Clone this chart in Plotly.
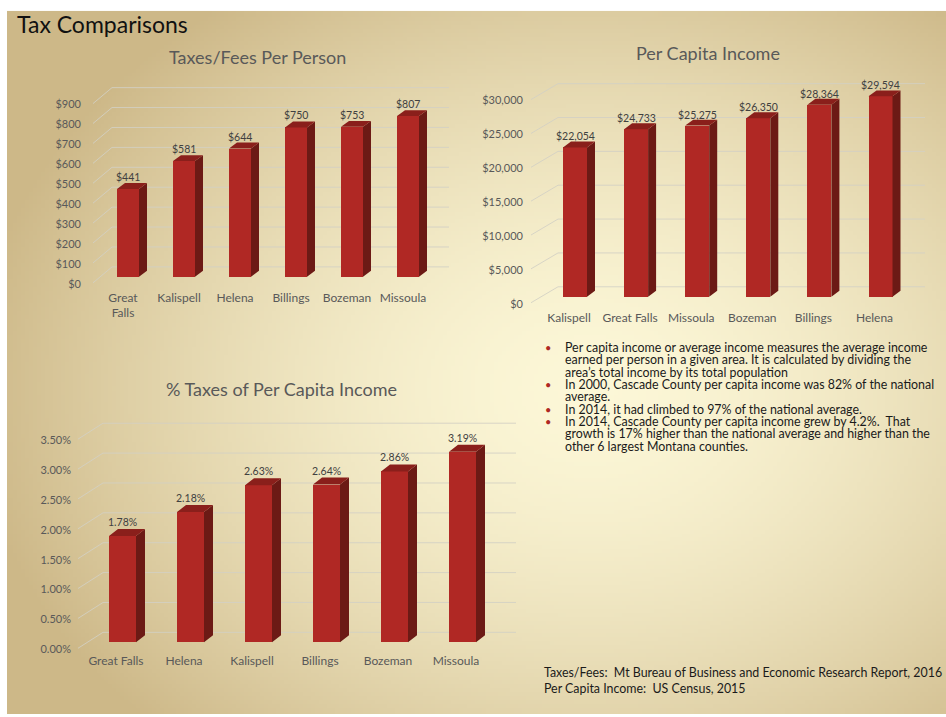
import base64
import struct
import zlib

import numpy as np
import plotly.graph_objects as go

# ---------------- data ----------------
tax_cities = ["Great Falls", "Kalispell", "Helena", "Billings", "Bozeman", "Missoula"]
tax_values = [441, 581, 644, 750, 753, 807]
tax_ticks = [0, 100, 200, 300, 400, 500, 600, 700, 800, 900]

income_cities = ["Kalispell", "Great Falls", "Missoula", "Bozeman", "Billings", "Helena"]
income_values = [22054, 24733, 25275, 26350, 28364, 29594]
income_ticks = [0, 5000, 10000, 15000, 20000, 25000, 30000]

pct_cities = ["Great Falls", "Helena", "Kalispell", "Billings", "Bozeman", "Missoula"]
pct_values = [1.78, 2.18, 2.63, 2.64, 2.86, 3.19]
pct_ticks = [0, 0.5, 1.0, 1.5, 2.0, 2.5, 3.0, 3.5]

bullet_lines = [
    ("•", "Per capita income or average income measures the average income"),
    ("", "earned per person in a given area. It is calculated by dividing the"),
    ("", "area\u2019s total income by its total population"),
    ("•", "In 2000, Cascade County per capita income was 82% of the national"),
    ("", "average."),
    ("•", "In 2014, it had climbed to 97% of the national average."),
    ("•", "In 2014, Cascade County per capita income grew by 4.2%.\u00a0 That"),
    ("", "growth is 17% higher than the national average and higher than the"),
    ("", "other 6 largest Montana counties."),
]
source_lines = [
    "Taxes/Fees:\u00a0 Mt Bureau of Business and Economic Research Report, 2016",
    "Per Capita Income:\u00a0 US Census, 2015",
]

# ---------------- style ----------------
W, H = 946, 717
FONT = "Lato"
FRONT = "rgb(176,40,36)"
SIDE = "rgb(108,26,21)"
TOP = "rgb(138,31,27)"
GRID = "rgba(210,208,196,0.85)"
AXIS_TXT = "#595959"


def png_uri(rgb):
    h, w, _ = rgb.shape
    raw = b"".join(b"\x00" + rgb[j].tobytes() for j in range(h))

    def chunk(t, d):
        return struct.pack(">I", len(d)) + t + d + struct.pack(">I", zlib.crc32(t + d) & 0xFFFFFFFF)

    png = (b"\x89PNG\r\n\x1a\n" + chunk(b"IHDR", struct.pack(">IIBBBBB", w, h, 8, 2, 0, 0, 0))
           + chunk(b"IDAT", zlib.compress(raw, 9)) + chunk(b"IEND", b""))
    return "data:image/png;base64," + base64.b64encode(png).decode()


# slide background gradient
SL, ST, SR, SB = 7, 11, 946, 717
gw, gh = 236, 177
xs = SL + (np.arange(gw) + 0.5) / gw * (SR - SL)
ys = ST + (np.arange(gh) + 0.5) / gh * (SB - ST)
XX, YY = np.meshgrid(xs, ys)
t = np.sqrt(((XX - 590) / 620) ** 2 + ((YY - 390) / 480) ** 2)
t = np.clip(t, 0, 1) ** 1.6
c0 = np.array([252, 247, 215], float)
c1 = np.array([205, 184, 136], float)
img = (c0[None, None, :] + (c1 - c0)[None, None, :] * t[..., None]).round().astype(np.uint8)
bg_uri = png_uri(img)

fig = go.Figure()
annotations = []
shapes = []

specs = [
    dict(cats=tax_cities, vals=tax_values, ticks=tax_ticks,
         ticktext=["$" + format(v, ",") for v in tax_ticks],
         valtext=["$" + format(v, ",") for v in tax_values],
         cattext=[c.replace(" ", "<br>") if c == "Great Falls" else c for c in tax_cities],
         x0=123, step=56, y0=278, ppu=0.2, dom=(86, 452, 78, 290),
         off=5, bw=22, side=8, top=6, bx0=112, bx1=449, dx0=93, vgap=6,
         title="Taxes/Fees Per Person", tx=257, ty=57),
    dict(cats=income_cities, vals=income_values, ticks=income_ticks,
         ticktext=["$" + format(v, ",") for v in income_ticks],
         valtext=["$" + format(v, ",") for v in income_values],
         cattext=income_cities,
         x0=569, step=61.1, y0=298, ppu=204 / 30000, dom=(528, 928, 75, 310),
         off=6, bw=24, side=8, top=6, bx0=558, bx1=925, dx0=531, vgap=5,
         title="Per Capita Income", tx=708, ty=53),
    dict(cats=pct_cities, vals=pct_values, ticks=pct_ticks,
         ticktext=["%.2f%%" % v for v in pct_ticks],
         valtext=["%.2f%%" % v for v in pct_values],
         cattext=pct_cities,
         x0=116, step=68, y0=645, ppu=60, dom=(76, 518, 415, 655),
         off=6.5, bw=27, side=9, top=7, bx0=103, bx1=516, dx0=78, vgap=7,
         title="% Taxes of Per Capita Income", tx=281, ty=391),
]

layout_axes = {}
for n, s in enumerate(specs, start=1):
    xa, ya = ("x" if n == 1 else f"x{n}"), ("y" if n == 1 else f"y{n}")
    l, r, tp, b = s["dom"]
    x0, step, y0, ppu = s["x0"], s["step"], s["y0"], s["ppu"]

    def X(px):
        return (px - x0) / step

    def Y(py):
        return (y0 - py) / ppu

    layout_axes["xaxis" if n == 1 else f"xaxis{n}"] = dict(
        domain=[l / W, r / W], range=[X(l), X(r)], anchor=ya,
        tickvals=list(range(len(s["cats"]))), ticktext=s["cattext"],
        showgrid=False, zeroline=False, showline=False, ticks="",
        tickfont=dict(family=FONT, size=12, color=AXIS_TXT), fixedrange=True)
    layout_axes["yaxis" if n == 1 else f"yaxis{n}"] = dict(
        domain=[1 - b / H, 1 - tp / H], range=[Y(b), Y(tp)], anchor=xa,
        tickvals=s["ticks"], ticktext=s["ticktext"], ticklabelshift=7, ticklabelstandoff=4,
        showgrid=False, zeroline=False, showline=False, ticks="",
        tickfont=dict(family=FONT, size=11, color=AXIS_TXT), fixedrange=True)

    # perspective gridlines (back wall + side wall)
    for v in s["ticks"]:
        fpy = y0 - v * ppu
        bpy = fpy - 10
        shapes.append(dict(type="line", xref=xa, yref=ya, layer="below",
                           x0=X(s["dx0"]), y0=Y(fpy + 6), x1=X(s["bx0"]), y1=Y(bpy),
                           line=dict(color=GRID, width=1)))
        shapes.append(dict(type="line", xref=xa, yref=ya, layer="below",
                           x0=X(s["bx0"]), y0=Y(bpy), x1=X(s["bx1"]), y1=Y(bpy),
                           line=dict(color=GRID, width=1)))

    n_c = len(s["cats"])
    cx = [i + s["off"] / step for i in range(n_c)]
    bw = s["bw"] / step
    sx = s["side"] / step
    ty_ = s["top"] / ppu

    fig.add_trace(go.Bar(x=cx, y=s["vals"], width=bw, marker=dict(color=FRONT, line=dict(width=0)),
                         xaxis=xa, yaxis=ya, hoverinfo="skip", showlegend=False))
    side_x, side_y, top_x, top_y = [], [], [], []
    for c, v in zip(cx, s["vals"]):
        xl, xr = c - bw / 2, c + bw / 2
        side_x += [xr, xr + sx, xr + sx, xr, xr, None]
        side_y += [0, ty_, v + ty_, v, 0, None]
        top_x += [xl, xl + sx, xr + sx, xr, xl, None]
        top_y += [v, v + ty_, v + ty_, v, v, None]
    fig.add_trace(go.Scatter(x=side_x, y=side_y, mode="lines", fill="toself", fillcolor=SIDE,
                             line=dict(width=0, color=SIDE), xaxis=xa, yaxis=ya,
                             hoverinfo="skip", showlegend=False))
    fig.add_trace(go.Scatter(x=top_x, y=top_y, mode="lines", fill="toself", fillcolor=TOP,
                             line=dict(width=0, color=TOP), xaxis=xa, yaxis=ya,
                             hoverinfo="skip", showlegend=False))
    for c, v, txt in zip(cx, s["vals"], s["valtext"]):
        annotations.append(dict(xref=xa, yref=ya, x=c, y=v + ty_, text=txt, showarrow=False,
                                xanchor="center", yanchor="middle", yshift=s["vgap"],
                                font=dict(family=FONT, size=10.5, color="#404040")))
    annotations.append(dict(xref="paper", yref="paper", x=s["tx"] / W, y=1 - s["ty"] / H,
                            text=s["title"], showarrow=False, xanchor="center", yanchor="middle",
                            font=dict(family=FONT, size=18, color=AXIS_TXT)))

# main title
annotations.append(dict(xref="paper", yref="paper", x=15 / W, y=1 - 24 / H, text="Tax Comparisons",
                        showarrow=False, xanchor="left", yanchor="middle",
                        font=dict(family=FONT, size=23, color="#111111")))

# bullet text
for k, (bul, line) in enumerate(bullet_lines):
    py = 349 + 12.4 * k
    if bul:
        annotations.append(dict(xref="paper", yref="paper", x=548 / W, y=1 - py / H, text=bul,
                                showarrow=False, xanchor="center", yanchor="middle",
                                font=dict(family=FONT, size=11, color="rgb(175,40,35)")))
    annotations.append(dict(xref="paper", yref="paper", x=563 / W, y=1 - py / H, text=line,
                            showarrow=False, xanchor="left", yanchor="middle",
                            font=dict(family=FONT, size=12.4, color="#1a1a1a")))

for k, line in enumerate(source_lines):
    py = 675 + 16 * k
    annotations.append(dict(xref="paper", yref="paper", x=542 / W, y=1 - py / H, text=line,
                            showarrow=False, xanchor="left", yanchor="middle",
                            font=dict(family=FONT, size=12.4, color="#1a1a1a")))

fig.update_layout(
    width=W, height=H, margin=dict(l=0, r=0, t=0, b=0),
    paper_bgcolor="white", plot_bgcolor="rgba(0,0,0,0)",
    showlegend=False, bargap=0,
    images=[dict(source=bg_uri, xref="paper", yref="paper", x=SL / W, y=1 - ST / H,
                 sizex=(SR - SL) / W, sizey=(SB - ST) / H, sizing="stretch",
                 xanchor="left", yanchor="top", layer="below")],
    shapes=shapes, annotations=annotations,
    **layout_axes,
)

fig.write_html("out.html", config=dict(displayModeBar=False, staticPlot=True))
